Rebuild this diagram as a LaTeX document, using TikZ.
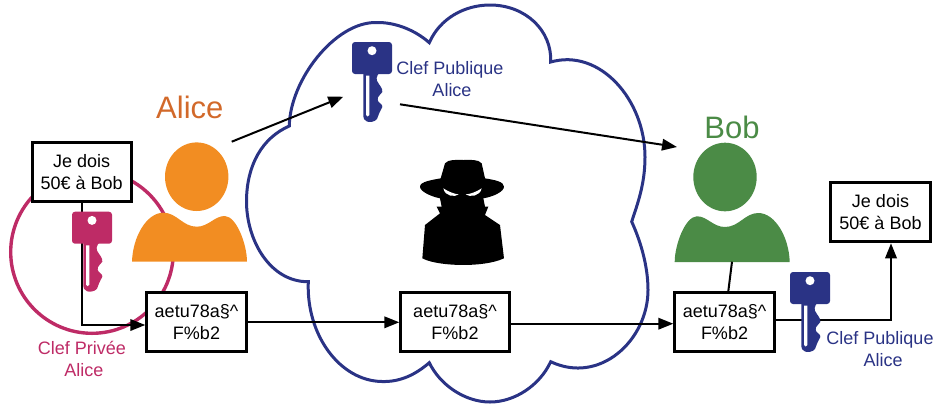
\documentclass[tikz,border=0pt]{standalone}
\usepackage{fontspec}
\setmainfont{Liberation Sans}
\usetikzlibrary{arrows.meta,calc}
\definecolor{alicetext}{HTML}{D2692A}
\definecolor{aliceorange}{HTML}{F28D22}
\definecolor{bobgreen}{HTML}{4B8B46}
\definecolor{clefbleu}{HTML}{2A3385}
\definecolor{clefrose}{HTML}{BE2B66}
\tikzset{
  pics/person/.style={code={
    \fill[#1] (0,0) ellipse (31.7 and 34.3);
    \fill[#1] (-64.7,85) .. controls (-64,60) and (-50,36) .. (-33.3,36)
      .. controls (-20,36) and (-14,50) .. (0,50)
      .. controls (12,50) and (18,39) .. (28.3,39.3)
      .. controls (40,40) and (50.3,68) .. (50.3,85) -- cycle;
  }},
  pics/keyicon/.style={code={
    \fill[#1,rounded corners=3] (-20,0) rectangle (20,32);
    \fill[#1] (-8.7,30) -- (8,30) .. controls (4,34) and (4,38) .. (5.7,40)
      .. controls (7,43) and (11,46) .. (10.3,50)
      .. controls (9,53) and (5,54) .. (5.7,58)
      .. controls (6,61) and (11,62) .. (10.3,65)
      .. controls (10,68) and (7,69) .. (7.3,71)
      -- (5,77) .. controls (3,80) and (-3,80.5) .. (-5,79.5)
      .. controls (-8,78.5) and (-8.7,76) .. (-8.7,74) -- cycle;
    \fill[white] (0,8.7) circle (4.5);
    \fill[white] (-6,33.7) -- (-2.7,33.7) -- (-2.7,73)
      .. controls (-2.7,75) and (-6,75) .. (-6,73) -- cycle;
  }}
}
\begin{document}
\begin{tikzpicture}[
  x=1pt,y=-1pt,line width=2pt,
  msgbox/.style={draw,line width=3pt,fill=white,align=center,inner sep=0pt,
    minimum width=99.4pt,minimum height=59pt,
    font=\fontsize{18}{21.5}\selectfont},
  keylabel/.style={align=center,inner sep=0pt,font=\fontsize{18}{21.5}\selectfont},
  namelabel/.style={inner sep=0pt,font=\fontsize{31}{33}\selectfont},
  arrow/.style={-{Triangle[length=15pt,width=11.5pt]}}
]
  \useasboundingbox (0,0) rectangle (949,416);

  % cloud
  \draw[clefbleu,line width=3pt,line join=miter]
    (289.3,126) .. controls (290,80) and (335,22) .. (376,22.5)
    .. controls (395,22) and (415,30) .. (429.3,42.7)
    .. controls (440,18) and (465,5) .. (490,5)
    .. controls (525,5) and (552,30) .. (550.7,62)
    .. controls (600,48) and (645,100) .. (645,157)
    .. controls (645,185) and (637,205) .. (631.7,221.7)
    .. controls (640,240) and (648,265) .. (648,290)
    .. controls (648,340) and (600,385) .. (550.7,361.7)
    .. controls (540,385) and (515,402) .. (490,402)
    .. controls (465,402) and (440,385) .. (429.3,362.7)
    .. controls (415,375) and (400,382) .. (382,381.5)
    .. controls (340,381) and (306,335) .. (308.3,281.7)
    .. controls (270,282) and (246,240) .. (246.5,200)
    .. controls (247,165) and (262,138) .. (289.3,126) -- cycle;

  % private key circle
  \draw[clefrose,line width=3.4pt] (92,252) circle (81.3);

  \pic at (196.7,176.7) {person=aliceorange};
  \pic[xscale=-1] at (725,177) {person=bobgreen};

  \node[namelabel,text=alicetext] (alice) at (189.8,107.5) {Alice};
  \node[namelabel,text=bobgreen] (bob) at (732,127.5) {Bob};

  \node[msgbox] (clair) at (81.7,172.3) {\raisebox{1pt}{Je dois}\\\raisebox{1pt}{50€ à Bob}};
  \node[msgbox] (chiffre) at (196.5,322.3) {\raisebox{1pt}{aetu78a§\textasciicircum}\\\raisebox{1pt}{F\%b2}};
  \node[msgbox,minimum width=108.4pt] (transit) at (455,322.3) {\raisebox{1pt}{aetu78a§\textasciicircum}\\\raisebox{1pt}{F\%b2}};
  \node[msgbox] (recu) at (724.5,322.3) {\raisebox{1pt}{aetu78a§\textasciicircum}\\\raisebox{1pt}{F\%b2}};
  \node[msgbox] (dechiffre) at (880.5,212.3) {\raisebox{1pt}{Je dois}\\\raisebox{1pt}{50€ à Bob}};

  \coordinate (alicefrom) at (231.7,141.7);
  \coordinate (clefto) at (343.3,96.7);
  \coordinate (cleffrom) at (400,104.3);
  \coordinate (bobto) at (677,147);
  \coordinate (bobfrom) at (732,261.7);

  \draw[arrow] (alicefrom) -- (clefto);
  \draw[arrow] (cleffrom) -- (bobto);
  \draw (bobfrom) -- ([xshift=3.8pt]recu.north);

  \draw[arrow] ([xshift=.3pt]clair.south) |- ([yshift=-2.7pt]chiffre.west);
  \draw[arrow] (chiffre.east) -- (transit.west);
  \draw[arrow] ([yshift=-1.4pt]transit.east) -- ([yshift=-1.4pt]recu.west);
  \draw[arrow] ([yshift=2.3pt]recu.east) -| ([xshift=10.5pt]dechiffre.south);

  \pic at (92,211.7) {keyicon=clefrose};
  \pic at (372,42) {keyicon=clefbleu};
  \pic at (810,272) {keyicon=clefbleu};

  \node[keylabel,text=clefrose] (privee) at (82,359) {Clef Privée\\\hspace*{4pt}Alice};
  \node[keylabel,text=clefbleu] (publique) at (450,79) {Clef Publique\\\hspace*{4pt}Alice};
  \node[keylabel,text=clefbleu] (publiquebob) at (880,349) {Clef Publique\\\hspace*{6pt}Alice};

  % spy
  \begin{scope}[shift={(400,150)},scale=.3333]
    \fill (135,40) .. controls (145,27) and (170,30) .. (190,30)
      .. controls (210,30) and (235,27) .. (245,40)
      -- (255,85) .. controls (285,90) and (312,95) .. (312,110)
      .. controls (312,125) and (280,140) .. (250,145)
      -- (255,170) -- (265,170) -- (255,195)
      -- (300,225) -- (312,325)
      .. controls (280,340) and (230,345) .. (190,345)
      .. controls (150,345) and (95,340) .. (67,325)
      -- (75,225) -- (120,190) -- (110,170) -- (125,170) -- (120,145)
      .. controls (95,140) and (60,125) .. (60,110)
      .. controls (60,95) and (95,90) .. (122,85) -- cycle;
    \fill[white] (130,115) .. controls (145,125) and (165,133) .. (176,133)
      .. controls (165,142) and (135,140) .. (130,115) -- cycle;
    \fill[white] (245,115) .. controls (230,125) and (210,133) .. (197,133)
      .. controls (208,142) and (240,140) .. (245,115) -- cycle;
  \end{scope}
\end{tikzpicture}
\end{document}
